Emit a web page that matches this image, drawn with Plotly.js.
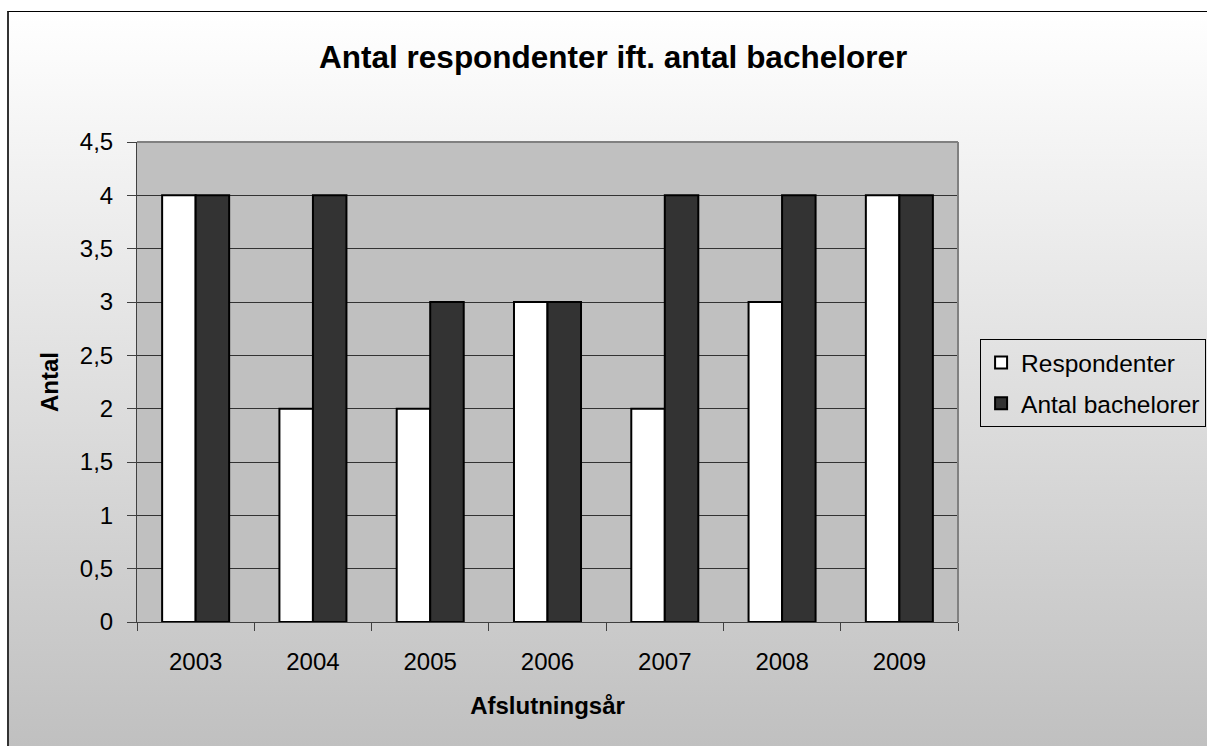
<!DOCTYPE html>
<html>
<head>
<meta charset="utf-8">
<script src="https://cdn.plot.ly/plotly-3.0.1.min.js"></script>
<style>
  html, body { margin: 0; padding: 0; background: #ffffff; overflow: hidden; width: 1207px; height: 746px; }
  #frame {
    position: absolute; left: 7px; top: 11px; width: 1200px; height: 735px;
    border-left: 2px solid #333333; border-top: 1px solid #000000;
    box-sizing: border-box;
    background: linear-gradient(to bottom, #ffffff 0%, #c0c0c0 100%);
  }
  #chart { position: absolute; left: 0; top: 0; width: 1207px; height: 746px; }
</style>
</head>
<body>
<div id="frame"></div>
<div id="chart"></div>
<script>
const years = ['2003', '2004', '2005', '2006', '2007', '2008', '2009'];
const respondenter = [4, 2, 2, 3, 2, 3, 4];
const bachelorer = [4, 4, 3, 3, 4, 4, 4];
const seriesNames = ['Respondenter', 'Antal bachelorer'];

const FONT = 'Liberation Sans, Arial, sans-serif';

const traces = [
  {
    type: 'bar', x: years, y: respondenter, name: seriesNames[0],
    legendgroup: 'a',
    marker: { color: '#ffffff', line: { color: '#000000', width: 2 } },
    hoverinfo: 'x+y'
  },
  {
    type: 'bar', x: years, y: bachelorer, name: seriesNames[1],
    legendgroup: 'b',
    marker: { color: '#333333', line: { color: '#000000', width: 2 } },
    hoverinfo: 'x+y'
  }
];

const layout = {
  width: 1207, height: 746,
  margin: { l: 137, r: 249, t: 142, b: 124, pad: 0 },
  paper_bgcolor: 'rgba(0,0,0,0)',
  plot_bgcolor: '#c0c0c0',
  separators: ', ',
  font: { family: FONT, color: '#000000', size: 24 },
  barmode: 'group', bargap: 0.4286, bargroupgap: 0,
  title: {
    text: '<b>Antal respondenter ift. antal bachelorer</b>',
    font: { family: FONT, size: 31.5, color: '#000000' },
    xref: 'container', x: 0.508, xanchor: 'center',
    yref: 'container', y: 0.924, yanchor: 'middle'
  },
  xaxis: {
    type: 'category',
    tickson: 'boundaries', ticks: 'outside', ticklen: 8, tickcolor: '#404040', tickwidth: 1,
    showline: true, linecolor: '#404040', linewidth: 1,
    showgrid: false, zeroline: false,
    tickfont: { family: FONT, size: 24 },
    ticklabelstandoff: 18,
    title: { text: '<b>Afslutningsår</b>', font: { family: FONT, size: 24 }, standoff: 23 }
  },
  yaxis: {
    range: [0, 4.5], dtick: 0.5, tick0: 0,
    ticks: 'outside', ticklen: 9, tickcolor: '#404040', tickwidth: 1,
    showline: true, linecolor: '#404040', linewidth: 1,
    showgrid: true, gridcolor: '#333333', gridwidth: 1,
    zeroline: false,
    tickfont: { family: FONT, size: 24 },
    ticklabelstandoff: 9,
    title: { text: '<b>Antal</b>', font: { family: FONT, size: 24 }, standoff: 14 }
  },
  legend: {
    xref: 'container', yref: 'container',
    x: 0.812, xanchor: 'left', y: 0.5456, yanchor: 'top',
    bgcolor: 'rgba(0,0,0,0)', bordercolor: '#000000', borderwidth: 1,
    font: { family: FONT, size: 24.5 },
    traceorder: 'grouped', tracegroupgap: 6
  },
  shapes: [
    { type: 'line', xref: 'paper', yref: 'paper', x0: 0, x1: 1, y0: 1, y1: 1,
      line: { color: '#808080', width: 2 } },
    { type: 'line', xref: 'paper', yref: 'paper', x0: 1, x1: 1, y0: 0, y1: 1,
      line: { color: '#808080', width: 2 } }
  ],
  showlegend: true
};

Plotly.newPlot('chart', traces, layout, { displayModeBar: false, staticPlot: true });
</script>
</body>
</html>
